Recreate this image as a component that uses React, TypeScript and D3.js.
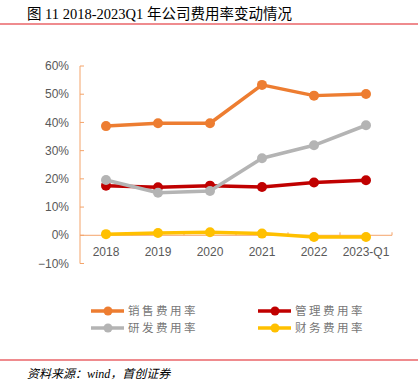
import React from "react";
import * as d3 from "d3";

const categories = ["2018", "2019", "2020", "2021", "2022", "2023-Q1"];
const salesRate = [38.7, 39.7, 39.7, 53.3, 49.5, 50.1];
const mgmtRate = [17.6, 17.0, 17.6, 17.1, 18.7, 19.5];
const rdRate = [19.6, 15.1, 15.7, 27.3, 31.9, 39.0];
const finRate = [0.4, 0.8, 1.1, 0.6, -0.6, -0.6];
const yTicks = [-10, 0, 10, 20, 30, 40, 50, 60];

const seriesList = [
  { name: "销售费用率", values: salesRate, color: "#ED7D31" },
  { name: "管理费用率", values: mgmtRate, color: "#C00000" },
  { name: "研发费用率", values: rdRate, color: "#B4B4B4" },
  { name: "财务费用率", values: finRate, color: "#FFC000" },
];
const drawOrder = [0, 1, 2, 3];

export default function App() {
  const x = d3.scaleBand<string>().domain(categories).range([80, 392]);
  const y = d3.scaleLinear().domain([-10, 60]).range([263.5, 66]);
  const cx = (c: string) => (x(c) as number) + x.bandwidth() / 2;
  const line = d3
    .line<number>()
    .x((_, i) => cx(categories[i]))
    .y((d) => y(d));
  const axisColor = "#F4A46A";
  const labelColor = "#595959";
  const legendPos = [
    { x: 91, y: 311 },
    { x: 258, y: 311 },
    { x: 91, y: 328 },
    { x: 258, y: 328 },
  ];
  return (
    <svg
      width={420}
      height={385}
      style={{ position: "fixed", left: 0, top: 0, background: "#fff" }}
    >
      <text
        x={27}
        y={19}
        fontFamily="'Liberation Serif', 'Noto Sans CJK SC', serif"
        fontSize={14.5}
        fill="#000"
      >
        图 11 2018-2023Q1 年公司费用率变动情况
      </text>
      <line x1={0} x2={418} y1={24} y2={24} stroke="#E0191E" strokeWidth={1.2} />

      <line x1={80} x2={80} y1={y(60)} y2={y(-10)} stroke={axisColor} strokeWidth={1} />
      {yTicks.map((t) => (
        <g key={t}>
          <line x1={80} x2={84} y1={y(t)} y2={y(t)} stroke={axisColor} />
          <text
            x={69}
            y={y(t)}
            dy="0.35em"
            textAnchor="end"
            fontFamily="'Liberation Sans', Arial, sans-serif"
            fontSize={12}
            fill={labelColor}
          >
            {t < 0 ? "\u2212" + Math.abs(t) + "%" : t + "%"}
          </text>
        </g>
      ))}
      <line x1={80} x2={392} y1={y(0)} y2={y(0)} stroke={axisColor} strokeWidth={1} />
      {categories.map((c) => (
        <g key={c}>
          <line
            x1={(x(c) as number) + x.bandwidth()}
            x2={(x(c) as number) + x.bandwidth()}
            y1={y(0)}
            y2={y(0) - 3}
            stroke={axisColor}
          />
          <text
            x={cx(c)}
            y={y(0) + 21}
            textAnchor="middle"
            fontFamily="'Liberation Sans', Arial, sans-serif"
            fontSize={12}
            fill={labelColor}
          >
            {c}
          </text>
        </g>
      ))}

      {drawOrder.map((si) => {
        const s = seriesList[si];
        return (
          <g key={s.name}>
            <path
              d={line(s.values) as string}
              fill="none"
              stroke={s.color}
              strokeWidth={3.5}
              strokeLinejoin="round"
            />
            {s.values.map((v, i) => (
              <circle key={i} cx={cx(categories[i])} cy={y(v)} r={5} fill={s.color} />
            ))}
          </g>
        );
      })}

      {seriesList.map((s, i) => {
        const p = legendPos[i];
        return (
          <g key={s.name}>
            <line x1={p.x} x2={p.x + 33} y1={p.y} y2={p.y} stroke={s.color} strokeWidth={3.5} />
            <circle cx={p.x + 17} cy={p.y} r={4.5} fill={s.color} />
            <text
              x={p.x + 37}
              y={p.y}
              dy="0.36em"
              fontFamily="'Noto Sans CJK SC', sans-serif"
              fontSize={11.5}
              letterSpacing={2.5}
              fill="#777"
            >
              {s.name}
            </text>
          </g>
        );
      })}

      <line x1={0} x2={418} y1={360} y2={360} stroke="#E0191E" strokeWidth={1.2} />
      <text
        x={27}
        y={378}
        fontFamily="'Liberation Serif', 'Noto Sans CJK SC', serif"
        fontSize={12}
        fontStyle="italic"
        fill="#000"
      >
        资料来源：wind，首创证券
      </text>
    </svg>
  );
}
